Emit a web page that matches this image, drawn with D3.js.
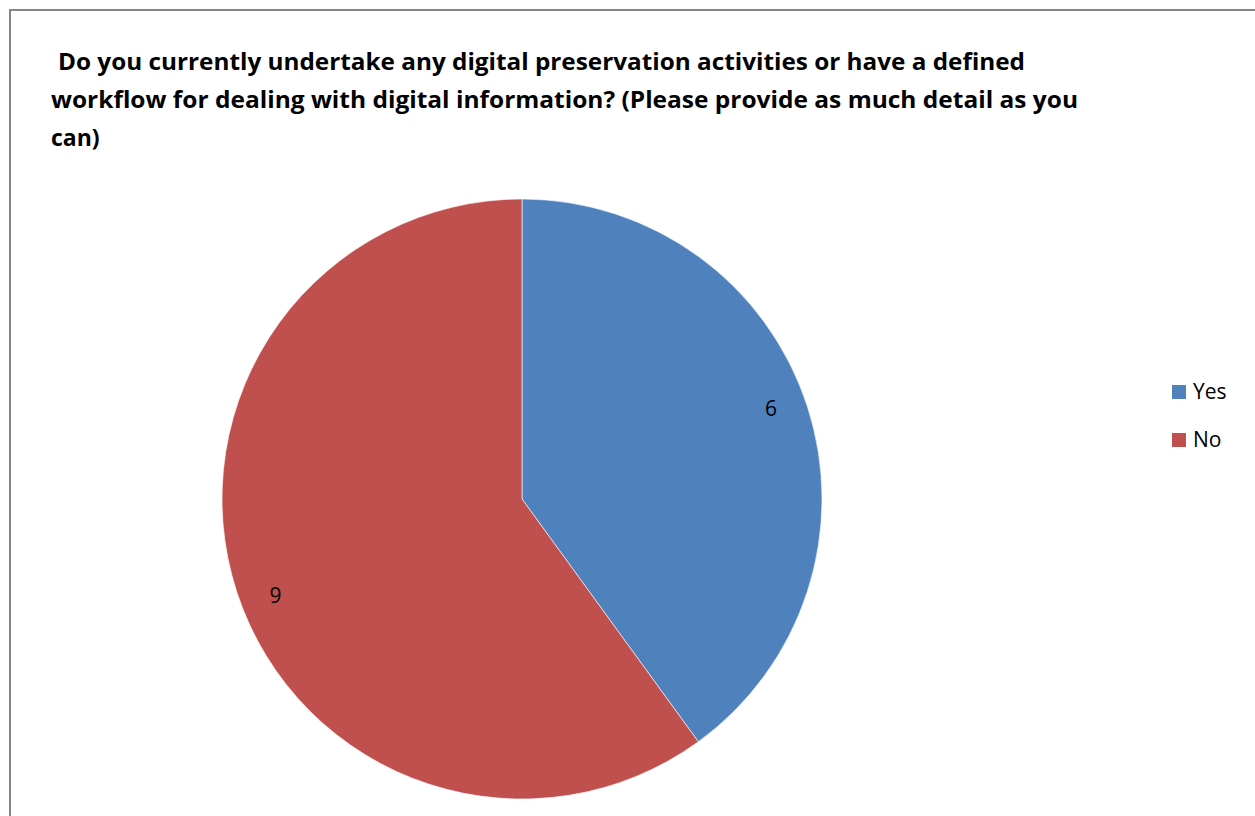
<!DOCTYPE html>
<html>
<head>
<meta charset="utf-8">
<script src="https://cdn.jsdelivr.net/npm/d3@7"></script>
<style>
  body { margin: 0; background: #fff; }
  svg { display: block; font-family: "Open Sans", "Noto Sans", sans-serif; }
</style>
</head>
<body>
<div id="app"></div>
<script>
const categories = ["Yes", "No"];
const values = [6, 9];
const colors = ["#4F81BD", "#C0504D"];
const titleLines = [
  " Do you currently undertake any digital preservation activities or have a defined",
  "workflow for dealing with digital information? (Please provide as much detail as you",
  "can)"
];
// where Excel's best-fit put the data labels (degrees clockwise from top)
const labelAngles = [70, 248.5];

const width = 1255, height = 816;
const svg = d3.select("#app").append("svg")
  .attr("width", width)
  .attr("height", height);

// chart area border (runs off the right and bottom edges)
svg.append("rect")
  .attr("x", 10).attr("y", 10)
  .attr("width", 1260).attr("height", 830)
  .attr("fill", "#fff")
  .attr("stroke", "#868686")
  .attr("stroke-width", 2);

// title
const titleX = [58, 51, 51];
const titleW = [967, 1027, 0];
svg.append("g").selectAll("text")
  .data(titleLines)
  .join("text")
  .attr("x", (d, i) => titleX[i])
  .attr("y", (d, i) => 70 + i * 38)
  .attr("font-size", 23)
  .attr("font-weight", "bold")
  .attr("fill", "#000")
  .each(function (d, i) {
    if (titleW[i]) d3.select(this).attr("textLength", titleW[i]).attr("lengthAdjust", "spacingAndGlyphs");
  })
  .text(d => d.trim());

// pie
const cx = 522, cy = 499, r = 300;
const pie = d3.pie().sort(null).value(d => d);
const arcs = pie(values);
const arc = d3.arc().innerRadius(0).outerRadius(r);

const g = svg.append("g").attr("transform", `translate(${cx},${cy})`);
g.selectAll("path")
  .data(arcs)
  .join("path")
  .attr("d", arc)
  .attr("fill", (d, i) => colors[i])
  .attr("stroke", "#fff")
  .attr("stroke-width", 1)
  .attr("stroke-opacity", 0.6);

g.selectAll("text.lbl")
  .data(arcs)
  .join("text")
  .attr("class", "lbl")
  .attr("transform", (d, i) => {
    const [x, y] = d3.pointRadial(labelAngles[i] * Math.PI / 180, 265);
    return `translate(${x},${y})`;
  })
  .attr("text-anchor", "middle")
  .attr("dy", "0.35em")
  .attr("font-size", 21)
  .attr("fill", "#000")
  .text(d => d.data);

// legend
const legend = svg.append("g").attr("transform", "translate(1172,385)");
const item = legend.selectAll("g")
  .data(categories)
  .join("g")
  .attr("transform", (d, i) => `translate(0,${i * 48})`);
item.append("rect")
  .attr("width", 14).attr("height", 14)
  .attr("fill", (d, i) => colors[i]);
item.append("text")
  .attr("x", 21).attr("y", 7)
  .attr("dy", "0.35em")
  .attr("font-size", 21)
  .attr("fill", "#000")
  .text(d => d);
</script>
</body>
</html>
